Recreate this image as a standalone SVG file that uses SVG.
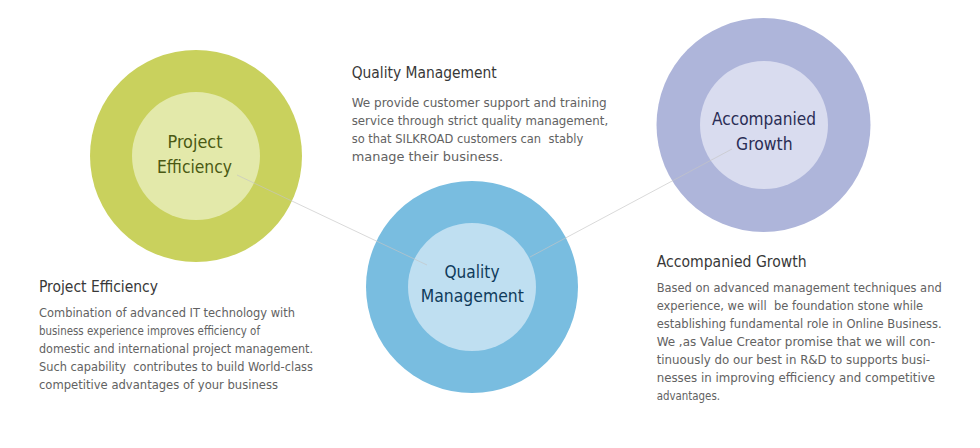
<svg xmlns="http://www.w3.org/2000/svg" width="980" height="448" viewBox="0 0 980 448">
<style>
  text { font-family: "DejaVu Sans Condensed", "DejaVu Sans", Verdana, sans-serif; }
  .lbl { font-size: 17.5px; text-anchor: middle; }
  .head { font-size: 15.5px; fill: #383838; }
  .body { font-size: 12.5px; fill: #626262; }
  .conn { stroke: #c4c4c4; stroke-opacity: 0.65; stroke-width: 1; fill: none; }
</style>
<rect width="980" height="448" fill="#ffffff"/>

<g id="node-project-efficiency">
  <circle cx="196" cy="156" r="106" fill="#c9d15d"/>
  <circle cx="196" cy="156" r="64" fill="#e3e9aa"/>
  <text class="lbl" fill="#4a5913" x="195" y="148" textLength="55" lengthAdjust="spacingAndGlyphs">Project</text>
  <text class="lbl" fill="#4a5913" x="194.5" y="172.5" textLength="75" lengthAdjust="spacingAndGlyphs">Efficiency</text>
</g>

<g id="node-quality-management">
  <circle cx="472" cy="287" r="106" fill="#79bde0"/>
  <circle cx="472" cy="287" r="64" fill="#bfdff1"/>
  <text class="lbl" fill="#0f3b5b" x="472" y="277.5" textLength="55" lengthAdjust="spacingAndGlyphs">Quality</text>
  <text class="lbl" fill="#0f3b5b" x="472.3" y="301.5" textLength="103" lengthAdjust="spacingAndGlyphs">Management</text>
</g>

<g id="node-accompanied-growth">
  <circle cx="763.5" cy="125" r="107" fill="#aeb5da"/>
  <circle cx="764" cy="125" r="64" fill="#d9dcef"/>
  <text class="lbl" fill="#2a2d55" x="764" y="125" textLength="104" lengthAdjust="spacingAndGlyphs">Accompanied</text>
  <text class="lbl" fill="#2a2d55" x="764.3" y="149.5" textLength="56.5" lengthAdjust="spacingAndGlyphs">Growth</text>
</g>

<g id="connectors">
  <line class="conn" x1="237" y1="175" x2="427" y2="265"/>
  <line class="conn" x1="530" y1="257" x2="732" y2="149"/>
</g>

<g id="text-project-efficiency">
  <text class="head" x="39" y="292.3" textLength="119" lengthAdjust="spacingAndGlyphs">Project Efficiency</text>
  <text class="body" x="39" y="316.7" textLength="256" lengthAdjust="spacingAndGlyphs">Combination of advanced IT technology with</text>
  <text class="body" x="39" y="334.8" textLength="221" lengthAdjust="spacingAndGlyphs">business experience improves efficiency of</text>
  <text class="body" x="39" y="352.9" textLength="274" lengthAdjust="spacingAndGlyphs">domestic and international project management.</text>
  <text class="body" x="39" y="371" textLength="274" lengthAdjust="spacingAndGlyphs" xml:space="preserve">Such capability  contributes to build World-class</text>
  <text class="body" x="39" y="389.1" textLength="239" lengthAdjust="spacingAndGlyphs">competitive advantages of your business</text>
</g>

<g id="text-quality-management">
  <text class="head" x="351.7" y="78.3" textLength="145" lengthAdjust="spacingAndGlyphs">Quality Management</text>
  <text class="body" x="351.7" y="106.7" textLength="255" lengthAdjust="spacingAndGlyphs">We provide customer support and training</text>
  <text class="body" x="351.7" y="124.7" textLength="256.5" lengthAdjust="spacingAndGlyphs">service through strict quality management,</text>
  <text class="body" x="351.7" y="142.7" textLength="231.5" lengthAdjust="spacingAndGlyphs" xml:space="preserve">so that SILKROAD customers can  stably</text>
  <text class="body" x="351.7" y="160.7" textLength="151.5" lengthAdjust="spacingAndGlyphs">manage their business.</text>
</g>

<g id="text-accompanied-growth">
  <text class="head" x="656.7" y="266.7" textLength="150" lengthAdjust="spacingAndGlyphs">Accompanied Growth</text>
  <text class="body" x="656.7" y="291.7" textLength="285" lengthAdjust="spacingAndGlyphs">Based on advanced management techniques and</text>
  <text class="body" x="656.7" y="309.7" textLength="266.5" lengthAdjust="spacingAndGlyphs" xml:space="preserve">experience, we will  be foundation stone while</text>
  <text class="body" x="656.7" y="327.7" textLength="285" lengthAdjust="spacingAndGlyphs">establishing fundamental role in Online Business.</text>
  <text class="body" x="656.7" y="345.7" textLength="278.3" lengthAdjust="spacingAndGlyphs">We ,as Value Creator promise that we will con-</text>
  <text class="body" x="656.7" y="363.7" textLength="273.3" lengthAdjust="spacingAndGlyphs">tinuously do our best in R&amp;D to supports busi-</text>
  <text class="body" x="656.7" y="381.7" textLength="278.3" lengthAdjust="spacingAndGlyphs">nesses in improving efficiency and competitive</text>
  <text class="body" x="656.7" y="399.7" textLength="63.3" lengthAdjust="spacingAndGlyphs">advantages.</text>
</g>
</svg>
